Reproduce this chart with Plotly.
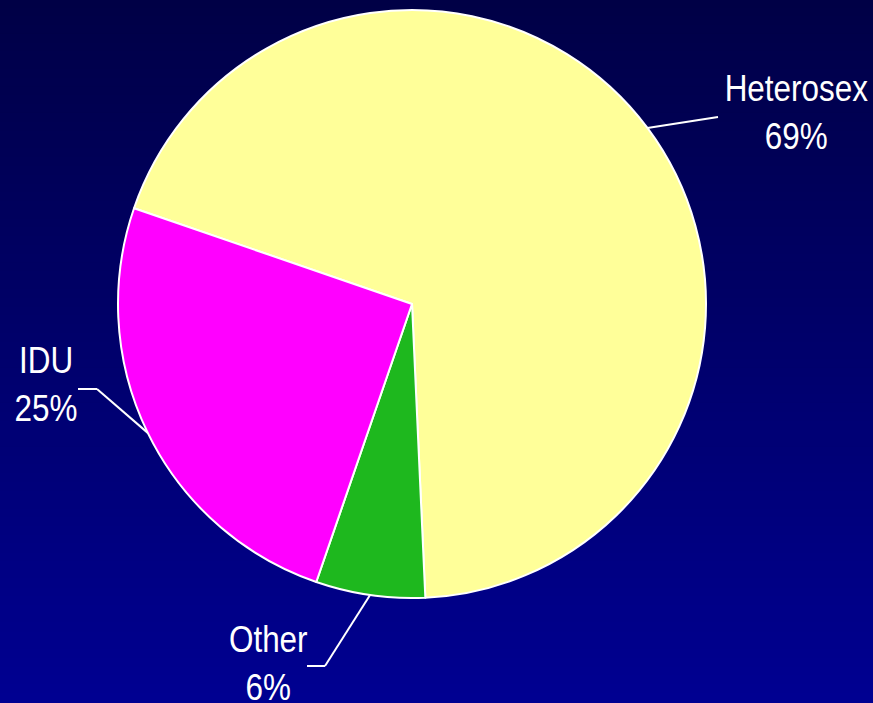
import math
import plotly.graph_objects as go

# ---- data ----
categories = ["Heterosex", "Other", "IDU"]
values = [69, 6, 25]
colors = ["#FFFF99", "#1EB81E", "#FF00FF"]

W, H = 873, 703
ROTATION = 289  # degrees clockwise from 12 o'clock where first slice starts

# pie placement (pixels)
cx, cy, R = 412, 304, 294
dom_x = [(cx - R) / W, (cx + R) / W]
dom_y = [(H - cy - R) / H, (H - cy + R) / H]

fig = go.Figure(go.Pie(
    labels=categories, values=values, sort=False, direction="clockwise",
    rotation=ROTATION, textinfo="none", hoverinfo="label+percent",
    marker=dict(colors=colors, line=dict(color="white", width=2)),
    domain=dict(x=dom_x, y=dom_y), showlegend=False,
))

# background gradient stripes
shapes = []
n = 80
top = (0, 0, 70)
bot = (0, 0, 145)
for i in range(n):
    t = i / (n - 1)
    c = tuple(round(top[k] + (bot[k] - top[k]) * t) for k in range(3))
    shapes.append(dict(type="rect", xref="paper", yref="paper", layer="below",
                       x0=0, x1=1, y0=1 - (i + 1) / n, y1=1 - i / n + 0.002,
                       fillcolor=f"rgb{c}", line=dict(width=0)))

def px(x):
    return x / W

def py(y):
    return 1 - y / H

# leader lines from mid-angle of each slice
total = sum(values)
acc = ROTATION
elbows = {
    "Heterosex": [(718, 117)],
    "IDU": [(97, 389), (78, 389)],
    "Other": [(325, 666), (307, 666)],
}
for lab, v in zip(categories, values):
    mid = acc + v / total * 360 / 2
    acc += v / total * 360
    a = math.radians(mid)
    pts = [(cx + R * math.sin(a), cy - R * math.cos(a))] + elbows[lab]
    for (x0, y0), (x1, y1) in zip(pts[:-1], pts[1:]):
        shapes.append(dict(type="line", xref="paper", yref="paper",
                           x0=px(x0), y0=py(y0), x1=px(x1), y1=py(y1),
                           line=dict(color="white", width=2)))

label_pos = {"Heterosex": (796, 113), "IDU": (46, 384), "Other": (268, 663)}
annotations = []
for lab, v in zip(categories, values):
    x, y = label_pos[lab]
    annotations.append(dict(
        x=px(x), y=py(y), xref="paper", yref="paper", showarrow=False,
        text=f"{lab}<br>{v}%", align="center", xanchor="center", yanchor="middle",
        font=dict(family="Liberation Sans, Arial", size=37, color="white"),
    ))

fig.update_layout(
    width=W, height=H, margin=dict(l=0, r=0, t=0, b=0),
    paper_bgcolor="#000070", plot_bgcolor="#000070",
    shapes=shapes, annotations=annotations,
)

post = """
var s = document.createElement('style');
s.textContent = 'html,body{margin:0;padding:0;} .annotation-text{transform-box:fill-box;transform-origin:center;transform:scaleX(0.85);}';
document.head.appendChild(s);
"""
fig.write_html("out.html", post_script=post, config={"displayModeBar": False})
